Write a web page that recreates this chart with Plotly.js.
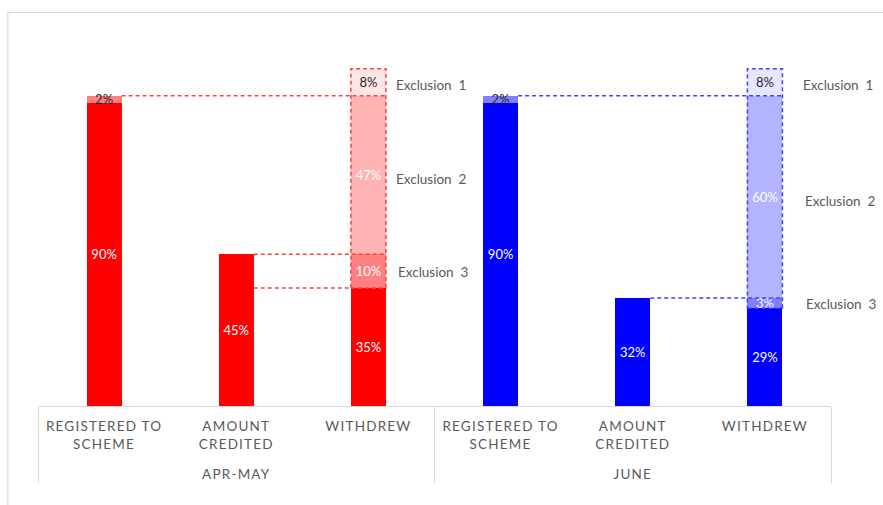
<!DOCTYPE html>
<html>
<head>
<meta charset="utf-8">
<script src="https://cdn.plot.ly/plotly-3.0.1.min.js"></script>
<style>
  html, body { margin: 0; padding: 0; background: #fff; }
  #chart { width: 883px; height: 505px; }
  /* spaced capitals on the category axis */
  .xaxislayer-above text { letter-spacing: 1.2px; }
</style>
</head>
<body>
<div id="chart"></div>
<script>
// Category axis: period (outer level) and funnel stage (inner level)
const periods = ['APR-MAY', 'APR-MAY', 'APR-MAY', 'JUNE', 'JUNE', 'JUNE'];
// a trailing blank line keeps the period row clear of the stage names
const GAP = '<br><span style="font-size:30px">\u00a0</span>';
const stages = ['REGISTERED TO<br>SCHEME' + GAP, 'AMOUNT<br>CREDITED' + GAP, 'WITHDREW' + GAP,
                'REGISTERED TO<br>SCHEME' + GAP, 'AMOUNT<br>CREDITED' + GAP, 'WITHDREW' + GAP];

// Share of beneficiaries (%) at each stage
const retained   = [90, 45, 35, 90, 32, 29];
// Stacked slices on top of the retained share
const exclusion3 = [2, null, 10, 2, null, 3];
const exclusion2 = [null, null, 47, null, null, 60];
const exclusion1 = [null, null, 8, null, null, 8];

const exclusionNames = ['Exclusion  1', 'Exclusion  2', 'Exclusion  3'];

const RED = '#FF0000', BLUE = '#0000FF';
const periodColor = p => (p === 'APR-MAY' ? RED : BLUE);
const DARK = '#262626';

const BAR_W = 0.265;
const font = 'Lato, "Open Sans", sans-serif';

function barTrace(values, colors, textColors) {
  return {
    type: 'bar',
    x: [periods, stages],
    y: values,
    width: BAR_W,
    marker: { color: colors, line: { width: 0 } },
    text: values.map(v => (v == null ? '' : v + '%')),
    textposition: 'inside',
    insidetextanchor: 'middle',
    textangle: 0,
    constraintext: 'none',
    textfont: { family: font, size: 13, color: textColors },
    hoverinfo: 'skip',
    cliponaxis: false
  };
}

const shade = {
  'APR-MAY': { a: '#FF8080', b: '#FFB3B3', c: '#FFE6E6', line: '#FF4040', carryWithdrawn: true,
               labelDx: [0.197, 0.197, 0.212] },
  'JUNE':    { a: '#8080FF', b: '#B3B3FF', c: '#E6E6FF', line: '#4040FF', carryWithdrawn: false,
               labelDx: [0.273, 0.288, 0.295] }
};

const traces = [
  barTrace(retained, periods.map(periodColor), periods.map(() => '#FFFFFF')),
  barTrace(exclusion3, periods.map(p => shade[p].a),
           stages.map(s => (s.startsWith('WITHDREW') ? '#FFFFFF' : DARK))),
  barTrace(exclusion2, periods.map(p => shade[p].b), periods.map(() => '#FFFFFF')),
  barTrace(exclusion1, periods.map(p => shade[p].c), periods.map(() => DARK))
];

// Dashed guides and exclusion boxes, on a linear twin of the category axis
const shapes = [];
const annotations = [];
const half = BAR_W / 2;
const dashLine = (color) => ({ color: color, width: 1.5, dash: '4px,3px' });
const labelShift = [-3, -4, -1];

[0, 3].forEach(g => {
  const reg = g, amt = g + 1, wd = g + 2;
  const st = shade[periods[g]];
  const regTop = retained[reg] + (exclusion3[reg] || 0);
  const wdBase = retained[wd];
  const s3 = exclusion3[wd], s2 = exclusion2[wd], s1 = exclusion1[wd];
  const wdTop = wdBase + s3 + s2 + s1;

  // registered total carried across to the withdrawal bar
  shapes.push({ type: 'line', xref: 'x2', yref: 'y', x0: reg + half, x1: wd + half,
                y0: regTop, y1: regTop, line: dashLine(st.line) });
  // amount credited carried across
  shapes.push({ type: 'line', xref: 'x2', yref: 'y', x0: amt + half, x1: wd + half,
                y0: retained[amt], y1: retained[amt], line: dashLine(st.line) });
  // withdrawn share carried back to the credited bar
  if (st.carryWithdrawn) {
    shapes.push({ type: 'line', xref: 'x2', yref: 'y', x0: amt + half, x1: wd - half,
                  y0: wdBase, y1: wdBase, line: dashLine(st.line) });
  }
  // box around the excluded part of the withdrawal bar
  shapes.push({ type: 'rect', xref: 'x2', yref: 'y', x0: wd - half, x1: wd + half,
                y0: wdBase, y1: wdTop, line: dashLine(st.line), fillcolor: 'rgba(0,0,0,0)' });

  // exclusion labels beside each slice
  const mids = [wdBase + s3 + s2 + s1 / 2, wdBase + s3 + s2 / 2, wdBase + s3 / 2];
  mids.forEach((m, k) => {
    annotations.push({
      xref: 'x2', yref: 'y', x: wd + st.labelDx[k], y: m, yshift: labelShift[k],
      xanchor: 'left', yanchor: 'middle', showarrow: false,
      text: exclusionNames[k],
      font: { family: font, size: 13.5, color: '#595959' }
    });
  });
});

// light frame around the chart area
shapes.push({
  type: 'rect', xref: 'paper', yref: 'paper',
  x0: -0.038, x1: 1.08, y0: -0.3, y1: 1.1116,
  line: { color: '#D9D9D9', width: 1.2 }, fillcolor: 'rgba(0,0,0,0)', layer: 'below'
});

const layout = {
  width: 883,
  height: 505,
  margin: { l: 38, r: 52, t: 52, b: 99, pad: 0 },
  paper_bgcolor: '#FFFFFF',
  plot_bgcolor: '#FFFFFF',
  barmode: 'stack',
  showlegend: false,
  font: { family: font, size: 13, color: '#595959' },
  xaxis: {
    type: 'multicategory',
    range: [-0.5, 5.5],
    showline: true,
    linecolor: '#D9D9D9',
    linewidth: 1,
    showgrid: false,
    zeroline: false,
    ticks: '',
    ticklabelstandoff: 8,
    showdividers: true,
    dividercolor: '#D9D9D9',
    dividerwidth: 1,
    tickfont: { family: font, size: 13.5, color: '#595959' },
    fixedrange: true
  },
  xaxis2: {
    overlaying: 'x',
    range: [-0.5, 5.5],
    visible: false,
    fixedrange: true
  },
  yaxis: {
    range: [0, 105],
    visible: false,
    showgrid: false,
    zeroline: false,
    fixedrange: true
  },
  shapes: shapes,
  annotations: annotations
};

Plotly.newPlot('chart', traces, layout, { staticPlot: true, displayModeBar: false });
</script>
</body>
</html>
